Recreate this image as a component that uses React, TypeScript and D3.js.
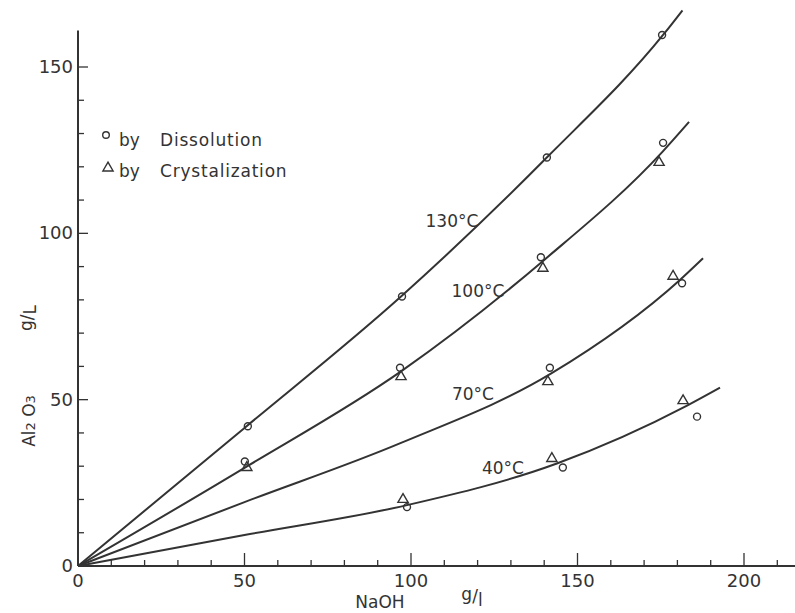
import React, { useEffect, useRef } from "react";
import * as d3 from "d3";

// fitted curves (NaOH g/l, Al2O3 g/l)
const curve130 = [[0, 0], [50, 41.5], [97, 81], [141, 123], [176, 160], [181.5, 167]];
const curve100 = [[0, 0], [50, 29.5], [97, 58.5], [140, 92], [175.5, 124.5], [183.5, 133.5]];
const curve70 = [[0, 0], [50, 19.2], [97, 37], [142, 57.8], [181, 86.2], [187.7, 92.5]];
const curve40 = [[0, 0], [50, 9.3], [98.8, 18.3], [143.8, 30.8], [182.9, 48.2], [192.8, 53.6]];

const curveLabels = [
  { text: "130°C", x: 112.3, y: 101.9 },
  { text: "100°C", x: 120.1, y: 80.9 },
  { text: "70°C", x: 118.6, y: 49.9 },
  { text: "40°C", x: 127.6, y: 27.6 },
];

// measured points
const dissolution = [
  [51, 42], [97.3, 81], [140.8, 122.8], [175.4, 159.6],
  [50.1, 31.4], [96.7, 59.6], [139, 92.8], [175.7, 127.2],
  [141.7, 59.6], [181.4, 85],
  [98.8, 17.7], [145.6, 29.6], [185.9, 44.9],
];
const crystalization = [
  [50.7, 29.6], [97, 56.9], [139.6, 89.5], [174.5, 121.3],
  [141.1, 55.4], [178.7, 87.1],
  [97.6, 20], [142.3, 32.3], [181.7, 49.7],
];

const xTicks = [0, 50, 100, 150, 200];
const yTicks = [0, 50, 100, 150];

const W = 795;
const H = 613;
const ink = "#333";
const font = "'DejaVu Sans', sans-serif";

const App = () => {
  const ref = useRef(null);

  useEffect(() => {
    document.body.style.margin = "0";
    const svg = d3.select(ref.current);
    svg.selectAll("*").remove();
    svg.attr("width", W).attr("height", H).style("background", "#fff");

    const x = d3.scaleLinear().domain([0, 200]).range([78, 744]);
    const y = d3.scaleLinear().domain([0, 150]).range([566, 67]);

    // axes
    svg.append("line").attr("x1", x(0)).attr("x2", W).attr("y1", y(0)).attr("y2", y(0)).attr("stroke", ink).attr("stroke-width", 2);
    svg.append("line").attr("x1", x(0)).attr("x2", x(0)).attr("y1", y(0)).attr("y2", y(161)).attr("stroke", ink).attr("stroke-width", 2);

    d3.range(10, 220, 10).forEach((v) => {
      const major = v % 50 === 0;
      svg.append("line").attr("x1", x(v)).attr("x2", x(v)).attr("y1", y(0)).attr("y2", y(0) - (major ? 13 : 6)).attr("stroke", ink).attr("stroke-width", 1.3);
    });
    d3.range(10, 160, 10).forEach((v) => {
      const major = v % 50 === 0;
      svg.append("line").attr("x1", x(0)).attr("x2", x(0) + (major ? 10 : 6)).attr("y1", y(v)).attr("y2", y(v)).attr("stroke", ink).attr("stroke-width", 1.3);
    });

    svg.append("g").selectAll("text").data(xTicks).enter().append("text")
      .attr("x", (d) => x(d)).attr("y", 587).attr("text-anchor", "middle")
      .attr("font-family", font).attr("font-size", 18).attr("fill", ink).text((d) => d);
    svg.append("g").selectAll("text").data(yTicks).enter().append("text")
      .attr("x", 73).attr("y", (d) => y(d) + 6).attr("text-anchor", "end")
      .attr("font-family", font).attr("font-size", 18).attr("fill", ink).text((d) => d);

    // axis titles
    const yl = svg.append("text").attr("transform", "translate(35,421) rotate(-90)").attr("text-anchor", "middle")
      .attr("font-family", font).attr("font-size", 17).attr("fill", ink);
    yl.append("tspan").text("Al");
    yl.append("tspan").attr("font-size", 13).text("2");
    yl.append("tspan").text(" O");
    yl.append("tspan").attr("font-size", 13).text("3");

    const yu = svg.append("text").attr("transform", "translate(35,318) rotate(-90)").attr("text-anchor", "middle")
      .attr("font-family", font).attr("font-size", 17).attr("fill", ink);
    yu.append("tspan").attr("dy", -3).text("g");
    yu.append("tspan").attr("dy", 1).text("/");
    yu.append("tspan").attr("dy", 3).text("L");

    svg.append("text").attr("x", 380).attr("y", 608).attr("text-anchor", "middle")
      .attr("font-family", font).attr("font-size", 17).attr("fill", ink).text("NaOH");
    const xu = svg.append("text").attr("x", 472).attr("y", 604).attr("text-anchor", "middle")
      .attr("font-family", font).attr("font-size", 17).attr("fill", ink);
    xu.append("tspan").attr("dy", -4).text("g");
    xu.append("tspan").attr("dy", 2).text("/");
    xu.append("tspan").attr("dy", 4).text("l");

    // curves
    const line = d3.line().x((d) => x(d[0])).y((d) => y(d[1])).curve(d3.curveMonotoneX);
    [curve130, curve100, curve70, curve40].forEach((c) => {
      svg.append("path").attr("d", line(c)).attr("fill", "none").attr("stroke", ink).attr("stroke-width", 2);
    });

    svg.append("g").selectAll("text").data(curveLabels).enter().append("text")
      .attr("x", (d) => x(d.x)).attr("y", (d) => y(d.y)).attr("text-anchor", "middle")
      .attr("font-family", font).attr("font-size", 17).attr("fill", ink).text((d) => d.text);

    // markers
    svg.append("g").selectAll("circle").data(dissolution).enter().append("circle")
      .attr("cx", (d) => x(d[0])).attr("cy", (d) => y(d[1])).attr("r", 3.5)
      .attr("fill", "none").attr("stroke", ink).attr("stroke-width", 1.4);
    const tri = d3.symbol().type(d3.symbolTriangle).size(45);
    svg.append("g").selectAll("path").data(crystalization).enter().append("path")
      .attr("d", tri).attr("transform", (d) => `translate(${x(d[0])},${y(d[1])})`)
      .attr("fill", "none").attr("stroke", ink).attr("stroke-width", 1.4);

    // legend
    svg.append("circle").attr("cx", 106).attr("cy", 135).attr("r", 3.3).attr("fill", "none").attr("stroke", ink).attr("stroke-width", 1.4);
    svg.append("path").attr("d", tri).attr("transform", "translate(108,168)").attr("fill", "none").attr("stroke", ink).attr("stroke-width", 1.4);
    [["by", "Dissolution", 146], ["by", "Crystalization", 177]].forEach(([a, b, yy]) => {
      svg.append("text").attr("x", 119).attr("y", yy).attr("font-family", font).attr("font-size", 17).attr("fill", ink).text(a);
      svg.append("text").attr("x", 160).attr("y", yy).attr("font-family", font).attr("font-size", 17)
        .attr("letter-spacing", 0.8).attr("fill", ink).text(b);
    });
  }, []);

  return <svg ref={ref}></svg>;
};

export default App;
